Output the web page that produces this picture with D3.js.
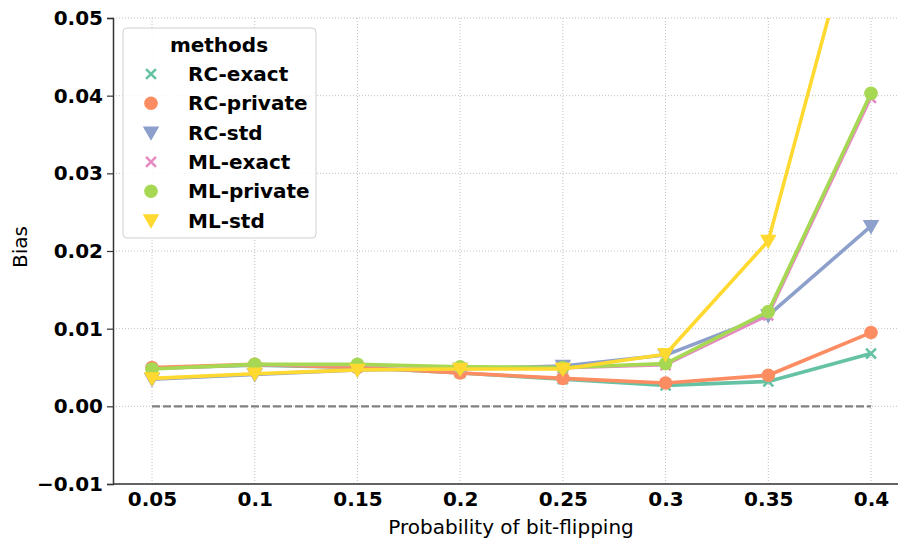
<!DOCTYPE html>
<html>
<head>
<meta charset="utf-8">
<script src="https://cdn.jsdelivr.net/npm/d3@7"></script>
<style>
  body { margin: 0; background: #fff; }
  svg text { font-family: "DejaVu Sans", sans-serif; }
</style>
</head>
<body>
<div id="chart"></div>
<script>
// Chart size
const width = 898;
const height = 540;

// Data
const probs = [0.05, 0.1, 0.15, 0.2, 0.25, 0.3, 0.35, 0.4];
const xTickLabels = ["0.05", "0.1", "0.15", "0.2", "0.25", "0.3", "0.35", "0.4"];
const methods = ["RC-exact", "RC-private", "RC-std", "ML-exact", "ML-private", "ML-std"];
const rcExact   = [0.0049, 0.0053, 0.0050, 0.0043, 0.0035, 0.0027, 0.0032, 0.0068];
const rcPrivate = [0.0050, 0.0054, 0.0050, 0.0043, 0.0036, 0.0030, 0.0040, 0.0095];
const rcStd     = [0.0035, 0.0041, 0.0047, 0.0048, 0.0052, 0.0066, 0.0117, 0.0232];
const mlExact   = [0.0048, 0.0053, 0.0053, 0.0050, 0.0049, 0.0053, 0.0117, 0.0397];
const mlPrivate = [0.0048, 0.0054, 0.0054, 0.0051, 0.0050, 0.0055, 0.0122, 0.0403];
const mlStd     = [0.0036, 0.0042, 0.0047, 0.0048, 0.0048, 0.0067, 0.0213, 0.0704];
const yTicks = [-0.01, 0.00, 0.01, 0.02, 0.03, 0.04, 0.05];

const seriesValues = [rcExact, rcPrivate, rcStd, mlExact, mlPrivate, mlStd];
const colors = ["#66c2a5", "#fc8d62", "#8da0cb", "#e78ac3", "#a6d854", "#ffd92f"];
const shapes = ["x", "circle", "tri", "x", "circle", "tri"];

// Plot area
const plotLeft = 113, plotTop = 18, plotBottom = 484;

const x = d3.scaleLinear()
    .domain([0.05, 0.4])
    .range([152, 871]);
const y = d3.scaleLinear()
    .domain([-0.01, 0.05])
    .range([plotBottom, plotTop]);

const svg = d3.select("#chart")
    .append("svg")
    .attr("width", width)
    .attr("height", height);

svg.append("defs").append("clipPath")
    .attr("id", "plotClip")
    .append("rect")
    .attr("x", plotLeft)
    .attr("y", plotTop)
    .attr("width", width - plotLeft)
    .attr("height", plotBottom - plotTop);

// Grid lines
const grid = svg.append("g");
grid.selectAll(".vgrid")
    .data(probs)
    .enter()
    .append("line")
    .attr("x1", d => x(d)).attr("x2", d => x(d))
    .attr("y1", plotTop).attr("y2", plotBottom)
    .attr("stroke", "#b0b0b0")
    .attr("stroke-width", 0.8)
    .attr("stroke-dasharray", "1,2");
grid.selectAll(".hgrid")
    .data(yTicks)
    .enter()
    .append("line")
    .attr("x1", plotLeft).attr("x2", width)
    .attr("y1", d => y(d)).attr("y2", d => y(d))
    .attr("stroke", "#b0b0b0")
    .attr("stroke-width", 0.8)
    .attr("stroke-dasharray", "1,2");

// Zero reference line
svg.append("line")
    .attr("x1", x(0.05)).attr("x2", x(0.4))
    .attr("y1", y(0)).attr("y2", y(0))
    .attr("stroke", "#808080")
    .attr("stroke-width", 2.2)
    .attr("stroke-dasharray", "8,3");

// Axes
const yAxis = d3.axisLeft(y)
    .tickValues(yTicks)
    .tickSize(6)
    .tickPadding(4)
    .tickFormat(d => d < 0 ? "\u2212" + d3.format(".2f")(-d) : d3.format(".2f")(d));
const yg = svg.append("g")
    .attr("transform", `translate(${plotLeft},0)`)
    .call(yAxis);
yg.select(".domain").attr("stroke", "#333").attr("stroke-width", 1.5);
yg.selectAll(".tick line").attr("stroke", "#333").attr("stroke-width", 1.2);
yg.selectAll("text")
    .attr("font-size", 20)
    .attr("font-weight", "bold")
    .attr("fill", "#000");

const xAxis = d3.axisBottom(x)
    .tickValues(probs)
    .tickSize(0)
    .tickPadding(8)
    .tickFormat((d, i) => xTickLabels[i]);
const xg = svg.append("g")
    .attr("transform", `translate(0,${plotBottom})`)
    .call(xAxis);
xg.select(".domain").remove();
xg.append("line")
    .attr("x1", plotLeft).attr("x2", width)
    .attr("stroke", "#333")
    .attr("stroke-width", 1.5);
xg.selectAll("text")
    .attr("font-size", 20)
    .attr("font-weight", "bold")
    .attr("fill", "#000");

// Axis titles
svg.append("text")
    .attr("x", 511)
    .attr("y", 534)
    .attr("text-anchor", "middle")
    .attr("font-size", 20)
    .text("Probability of bit-flipping");
svg.append("text")
    .attr("transform", `translate(27,247) rotate(-90)`)
    .attr("text-anchor", "middle")
    .attr("font-size", 20)
    .text("Bias");

// Marker drawing helper
function drawMarker(g, shape, color, size) {
    if (shape === "circle") {
        g.append("circle").attr("r", size * 0.62).attr("fill", color);
    } else if (shape === "tri") {
        const s = size * 0.75;
        g.append("path")
            .attr("d", `M${-s},${-s * 0.75}L${s},${-s * 0.75}L0,${s}Z`)
            .attr("fill", color);
    } else {
        const s = size * 0.45;
        g.append("path")
            .attr("d", `M${-s},${-s}L${s},${s}M${-s},${s}L${s},${-s}`)
            .attr("stroke", color)
            .attr("stroke-width", 2.6)
            .attr("fill", "none");
    }
}

// Series
const plot = svg.append("g").attr("clip-path", "url(#plotClip)");
const line = d3.line()
    .x((d, i) => x(probs[i]))
    .y(d => y(d));

seriesValues.forEach((vals, k) => {
    const g = plot.append("g");
    g.append("path")
        .datum(vals)
        .attr("d", line)
        .attr("fill", "none")
        .attr("stroke", colors[k])
        .attr("stroke-width", k === 3 ? 2.5 : 3.6)
        .attr("stroke-linejoin", "round");
    g.selectAll(".m")
        .data(vals)
        .enter()
        .append("g")
        .attr("transform", (d, i) => `translate(${x(probs[i])},${y(d)})`)
        .each(function() { drawMarker(d3.select(this), shapes[k], colors[k], 11); });
});

// Legend
const legend = svg.append("g");
legend.append("rect")
    .attr("x", 123).attr("y", 28)
    .attr("width", 193).attr("height", 210)
    .attr("rx", 4)
    .attr("fill", "#fff")
    .attr("fill-opacity", 0.85)
    .attr("stroke", "#d0d0d0")
    .attr("stroke-width", 1);
legend.append("text")
    .attr("x", 219).attr("y", 52)
    .attr("text-anchor", "middle")
    .attr("font-size", 20)
    .attr("font-weight", "bold")
    .text("methods");
methods.forEach((m, k) => {
    const cy = 74 + k * 29.3;
    const mg = legend.append("g").attr("transform", `translate(151,${cy})`);
    drawMarker(mg, shapes[k], colors[k], 11);
    legend.append("text")
        .attr("x", 188).attr("y", cy + 7)
        .attr("font-size", 20)
        .attr("font-weight", "bold")
        .text(m);
});
</script>
</body>
</html>
